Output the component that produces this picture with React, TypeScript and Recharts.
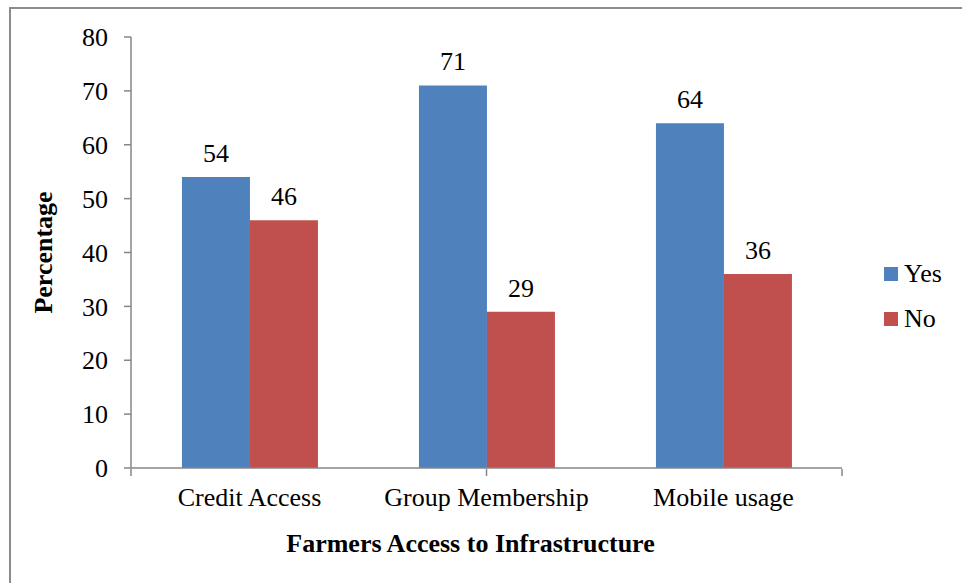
import { BarChart, Bar, XAxis, YAxis, Legend, LabelList, Label } from 'recharts';

const categories = ['Credit Access', 'Group Membership', 'Mobile usage'];
const seriesNames = ['Yes', 'No'];
const yesValues = [54, 71, 64];
const noValues = [46, 29, 36];
const yTicks = [0, 10, 20, 30, 40, 50, 60, 70, 80];
const edgeTicks = [0, 1, 2, 3];

const FONT = '"Times New Roman", "Liberation Serif", serif';
const AXIS = '#868686';
const BLUE = '#4F81BD';
const RED = '#C0504D';

const data = categories.map((name, i) => ({ name, Yes: yesValues[i], No: noValues[i] }));

const LegendBox = ({ payload }: any) => {
  const items = [...(payload || [])].sort(
    (a: any, b: any) => seriesNames.indexOf(a.value) - seriesNames.indexOf(b.value)
  );
  return (
    <div style={{ fontFamily: FONT, fontSize: 26, color: '#000' }}>
      {items.map((p: any) => (
        <div key={p.value} style={{ display: 'flex', alignItems: 'center', height: 45 }}>
          <div style={{ width: 14, height: 14, background: p.color, marginRight: 6 }} />
          <span>{p.value}</span>
        </div>
      ))}
    </div>
  );
};

export default function App() {
  return (
    <div style={{ position: 'absolute', left: 0, top: 0, width: 962, height: 583, background: '#fff', overflow: 'hidden' }}>
      <div
        style={{
          position: 'absolute',
          left: 9,
          top: 7,
          width: 962,
          height: 583,
          borderLeft: '2px solid #8c8c8c',
          borderTop: '2px solid #8c8c8c',
        }}
      />
      <BarChart
        width={962}
        height={583}
        data={data}
        margin={{ top: 37, right: 120, left: 0, bottom: 0 }}
        barCategoryGap="21.5%"
        barGap={0}
        style={{ fontFamily: FONT }}
      >
        <XAxis
          xAxisId="cat"
          dataKey="name"
          height={1}
          tickSize={0}
          tickLine={false}
          tickMargin={20}
          axisLine={{ stroke: AXIS, strokeWidth: 1.5 }}
          tick={{ fill: '#000', fontSize: 26, fontFamily: FONT }}
        >
          <Label
            content={({ viewBox }: any) => (
              <text
                x={viewBox.x + viewBox.width / 2 - 16}
                y={viewBox.y + 75}
                textAnchor="middle"
                dominantBaseline="central"
                fontFamily={FONT}
                fontSize={26}
                fontWeight="bold"
                fill="#000"
              >
                Farmers Access to Infrastructure
              </text>
            )}
          />
        </XAxis>
        <XAxis
          xAxisId="edges"
          type="number"
          domain={[0, 3]}
          ticks={edgeTicks}
          height={114}
          tickFormatter={() => ''}
          axisLine={false}
          tickSize={7}
          tickLine={{ stroke: AXIS, strokeWidth: 1.5 }}
        />
        <YAxis
          width={131}
          domain={[0, 80]}
          ticks={yTicks}
          tickSize={7}
          tickMargin={16}
          axisLine={{ stroke: AXIS, strokeWidth: 1.5 }}
          tickLine={{ stroke: AXIS, strokeWidth: 1.5 }}
          tick={{ fill: '#000', fontSize: 26, fontFamily: FONT }}
        >
          <Label
            content={({ viewBox }: any) => {
              const x = viewBox.x + 43;
              const y = viewBox.y + viewBox.height / 2;
              return (
                <text
                  x={x}
                  y={y}
                  transform={`rotate(-90, ${x}, ${y})`}
                  textAnchor="middle"
                  dominantBaseline="central"
                  fontFamily={FONT}
                  fontSize={26}
                  fontWeight="bold"
                  fill="#000"
                >
                  Percentage
                </text>
              );
            }}
          />
        </YAxis>
        <Legend
          layout="horizontal"
          verticalAlign="middle"
          align="center"
          wrapperStyle={{ left: 884, top: 251, width: 80 }}
          content={<LegendBox />}
        />
        <Bar xAxisId="cat" dataKey="Yes" fill={BLUE} isAnimationActive={false}>
          <LabelList dataKey="Yes" position="top" offset={15} fill="#000" fontSize={26} fontFamily={FONT} />
        </Bar>
        <Bar xAxisId="cat" dataKey="No" fill={RED} isAnimationActive={false}>
          <LabelList dataKey="No" position="top" offset={15} fill="#000" fontSize={26} fontFamily={FONT} />
        </Bar>
      </BarChart>
    </div>
  );
}
